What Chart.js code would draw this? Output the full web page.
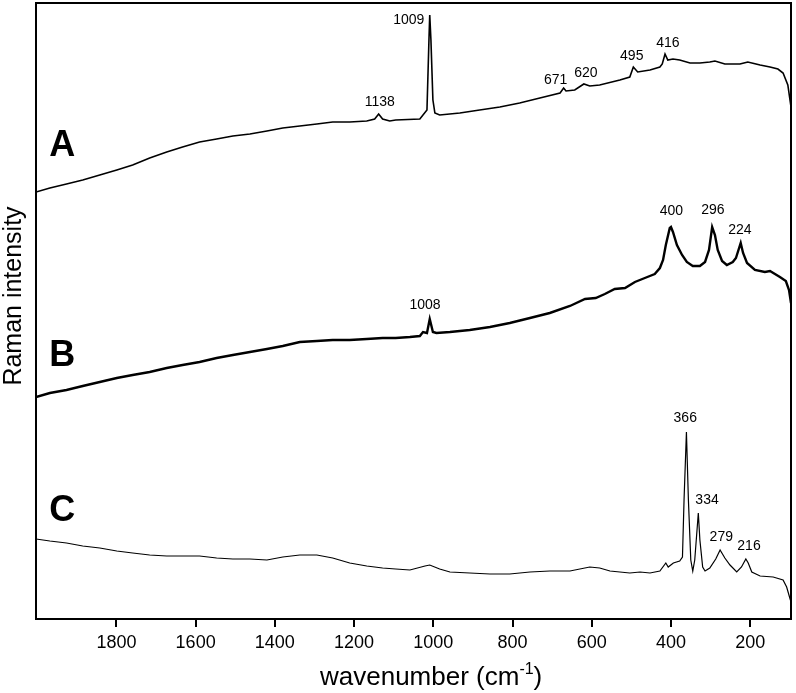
<!DOCTYPE html>
<html>
<head>
<meta charset="utf-8">
<title>Raman spectra</title>
<script src="https://cdn.jsdelivr.net/npm/chart.js@4.4.1/dist/chart.umd.min.js"></script>
<style>
  html, body { margin: 0; padding: 0; background: #fff; }
</style>
</head>
<body>
<canvas id="ramanChart" width="796" height="693"></canvas>
<script>
// spectrum A
var waveA = [2003,1968,1926,1885,1842,1799,1759,1716,1673,1633,1590,1547,1506,1463,1420,1380,1337,1294,1254,1211,1168,1148,1138,1128,1110,1095,1034,1016,1011,1009,1006,1001,996,984,933,883,832,782,731,680,671,665,643,620,605,580,529,504,495,484,453,428,422,415,408,395,378,352,327,302,289,264,226,206,175,150,130,117,105,97];
var intA = [427,431,435,439,444,449,454,461,467,472,477,480,483,485,488,491,493,495,497,497,498,500,505,500,498,499,500,509,579,604,579,519,506,504,506,509,512,516,521,526,531,528,529,535,533,534,539,542,552,547,549,552,555,565,559,560,559,556,556,557,558,555,555,557,554,552,550,546,534,512];
// spectrum B
var waveB = [2003,1968,1926,1885,1842,1799,1759,1716,1673,1633,1590,1547,1506,1463,1420,1380,1337,1294,1254,1211,1168,1128,1095,1059,1034,1026,1016,1009,1001,992,958,908,857,807,756,706,655,617,590,567,542,516,491,466,441,428,420,413,403,400,395,385,372,360,345,327,314,304,296,289,282,271,259,244,236,224,218,208,188,163,150,125,110,102,97];
var intB = [222,226,229,233,237,241,244,247,251,254,257,261,264,267,270,273,277,278,279,279,280,281,281,282,283,287,286,300,287,286,287,289,292,296,301,306,313,320,321,325,330,331,337,341,345,351,359,374,391,392,387,374,364,357,353,353,357,369,392,384,369,358,354,357,361,376,366,356,349,347,348,342,338,329,316];
// spectrum C
var waveC = [2003,1968,1926,1885,1842,1799,1759,1716,1673,1633,1590,1547,1506,1463,1420,1380,1337,1294,1254,1211,1168,1128,1095,1059,1021,1009,984,958,908,857,807,756,706,655,605,580,554,504,478,453,428,413,407,394,378,371,367,361,356,350,345,340,331,327,320,314,302,287,276,264,251,234,222,211,205,196,175,142,117,108,100,97];
var intC = [80,78,76,73,71,68,66,64,63,63,63,61,60,60,59,62,64,64,61,56,53,51,50,49,53,54,50,47,46,45,45,47,48,48,52,51,48,46,47,46,48,56,52,56,58,62,119,187,119,59,48,59,106,79,52,48,51,60,69,61,54,47,52,60,56,47,43,42,39,32,21,17];

var tickValues = [1800, 1600, 1400, 1200, 1000, 800, 600, 400, 200];

// peak labels (text, wavenumber, intensity where the label sits)
var peakText = ['1138', '1009', '671', '620', '495', '416', '1008', '400', '296', '224', '366', '334', '279', '216'];
var peakWave = [1135, 1062, 691, 615, 499, 408, 1021, 399, 294, 226, 364, 309, 273, 203];
var peakY    = [517, 599, 539, 546, 563, 576, 314, 408, 409, 389, 201, 119, 82, 73];

// trace letters
var traceNames = ['A', 'B', 'C'];
var traceNameWave = [1937, 1937, 1937];
var traceNameY = [473, 263, 108];

function toPoints(xs, ys) {
    var pts = [];
    for (var i = 0; i < xs.length; i++) pts.push({x: xs[i], y: ys[i]});
    return pts;
}

var FONT = '"Liberation Sans", Arial, Helvetica, sans-serif';

var annotate = {
    id: 'annotate',
    afterDraw: function(chart) {
        var ctx = chart.ctx, a = chart.chartArea;
        var xs = chart.scales.x, ys = chart.scales.y;
        ctx.save();
        ctx.strokeStyle = '#000';
        ctx.lineWidth = 2;
        ctx.strokeRect(a.left, a.top, a.right - a.left, a.bottom - a.top);

        ctx.fillStyle = '#000';
        ctx.textAlign = 'center';
        ctx.textBaseline = 'middle';
        ctx.font = '14px ' + FONT;
        for (var i = 0; i < peakText.length; i++) {
            ctx.fillText(peakText[i], xs.getPixelForValue(peakWave[i]), ys.getPixelForValue(peakY[i]));
        }

        ctx.font = 'bold 36px ' + FONT;
        for (var j = 0; j < traceNames.length; j++) {
            ctx.fillText(traceNames[j], xs.getPixelForValue(traceNameWave[j]), ys.getPixelForValue(traceNameY[j]));
        }

        // y axis title
        ctx.save();
        ctx.translate(14, 296);
        ctx.rotate(-Math.PI / 2);
        ctx.font = '25px ' + FONT;
        ctx.fillText('Raman intensity', 0, 0);
        ctx.restore();

        // x axis title with superscript
        ctx.textAlign = 'left';
        ctx.textBaseline = 'alphabetic';
        var x0 = 320, base = 685;
        ctx.font = '26px ' + FONT;
        var t1 = 'wavenumber (cm';
        ctx.fillText(t1, x0, base);
        x0 += ctx.measureText(t1).width;
        ctx.font = '16px ' + FONT;
        ctx.fillText('-1', x0, base - 11);
        x0 += ctx.measureText('-1').width;
        ctx.font = '26px ' + FONT;
        ctx.fillText(')', x0, base);
        ctx.restore();
    }
};

var ctx = document.getElementById('ramanChart').getContext('2d');
var ramanChart = new Chart(ctx, {
    type: 'line',
    data: {
        datasets: [{
            label: 'A',
            data: toPoints(waveA, intA),
            borderColor: '#000',
            borderWidth: 1.6
        }, {
            label: 'B',
            data: toPoints(waveB, intB),
            borderColor: '#000',
            borderWidth: 2.4
        }, {
            label: 'C',
            data: toPoints(waveC, intC),
            borderColor: '#000',
            borderWidth: 1.2
        }]
    },
    options: {
        responsive: false,
        animation: false,
        devicePixelRatio: 1,
        layout: { padding: { top: 3, right: 5, left: 0, bottom: 0 } },
        elements: { point: { radius: 0 }, line: { tension: 0, fill: false } },
        plugins: { legend: { display: false }, tooltip: { enabled: false } },
        scales: {
            x: {
                type: 'linear',
                reverse: true,
                min: 97,
                max: 2003,
                afterBuildTicks: function(scale) {
                    scale.ticks = tickValues.map(function(v) { return {value: v}; });
                },
                afterFit: function(scale) { scale.height = 74; },
                ticks: {
                    color: '#000',
                    padding: 5,
                    maxRotation: 0,
                    font: { size: 18, family: FONT },
                    callback: function(v) { return String(v); }
                },
                grid: {
                    display: true,
                    drawOnChartArea: false,
                    drawTicks: true,
                    tickLength: 8,
                    lineWidth: 2,
                    color: '#000'
                },
                border: { display: false }
            },
            y: {
                type: 'linear',
                min: 0,
                max: 616,
                afterFit: function(scale) { scale.width = 36; },
                ticks: { display: false },
                grid: { display: false },
                border: { display: false }
            }
        }
    },
    plugins: [annotate]
});
</script>
</body>
</html>
